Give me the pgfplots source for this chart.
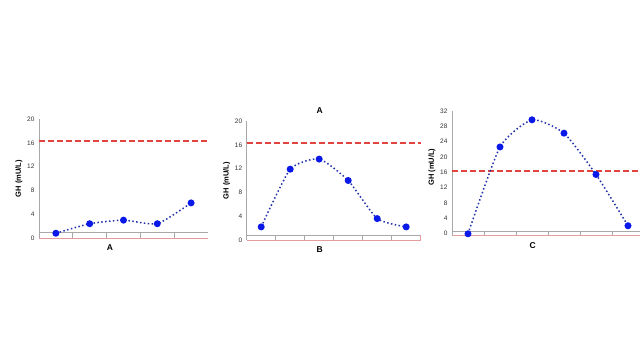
\documentclass[border=0pt]{standalone}
\usepackage{pgfplots}
\pgfplotsset{compat=1.18}
\usepackage{fontspec}
\setmainfont{Liberation Sans}
\definecolor{dotblue}{HTML}{2233AA}
\definecolor{mk}{HTML}{0A18E8}
\definecolor{dashred}{HTML}{E0443C}
\definecolor{basered}{HTML}{E59C9C}
\definecolor{axgray}{HTML}{A8A8A8}
\definecolor{tickgray}{HTML}{333333}
\pgfplotsset{panel/.style={
  scale only axis, anchor=south west,
  axis x line=bottom, axis y line=left, axis line style={-},
  x axis line style={basered, line width=0.8pt},
  y axis line style={axgray, line width=0.9pt},
  xticklabels={}, tick align=inside, major tick length=5pt,
  x tick style={axgray, line width=0.7pt},
  y tick style={draw=none},
  /pgf/number format/assume math mode=true,
  yticklabel style={font=\fontsize{6.5}{7.5}\selectfont, text=tickgray, xshift=-1pt},
  every axis y label/.style={at={(axis description cs:0,0.5)}, xshift=-20pt, rotate=90, anchor=center, font=\bfseries\fontsize{7.5}{8.5}\selectfont},
  every axis x label/.style={at={(axis description cs:0.42,0)}, yshift=-10pt, anchor=center, font=\bfseries\fontsize{8.5}{9.5}\selectfont},
  ylabel={GH (mU/L)},
  clip=false,
},
ref/.style={dashred, dash pattern=on 6pt off 3pt, line width=1.4pt, forget plot},
ser/.style={dotblue, dash pattern=on 1.5pt off 2.4pt, line width=1.5pt, smooth, tension=0.35, mark=*, mark options={solid, draw=mk, fill=mk}, mark size=2.7pt},
}
\begin{document}
\begin{tikzpicture}
\useasboundingbox (0,0) rectangle (640pt,360pt);
\clip (0,0) rectangle (640pt,360pt);
\fill[white] (0,0) rectangle (640pt,360pt);
% Panel 1
\begin{axis}[panel, at={(39pt,122pt)}, width=169pt, height=119pt,
  xmin=0, xmax=5, ymin=0, ymax=20, ytick={0,4,...,20}, xtick={1,2,3,4}, xlabel={A}]
\draw[axgray, line width=0.9pt] (axis cs:0,1) -- (axis cs:5,1);
\addplot[ref] coordinates {(0,16.3) (5,16.3)};
\addplot[ser] coordinates {(0.5,0.8) (1.5,2.4) (2.5,3.0) (3.5,2.4) (4.5,5.9)};
\end{axis}
% Panel 2
\begin{axis}[panel, at={(246.7pt,120pt)}, width=174pt, height=119pt,
  xmin=0, xmax=6, ymin=0, ymax=20, ytick={0,4,...,20}, xtick={1,2,3,4,5}, xlabel={B}]
\draw[axgray, line width=0.9pt] (axis cs:0,0.84) -- (axis cs:6,0.84);
\draw[basered, line width=0.8pt] (axis cs:6,0) -- (axis cs:6,0.84);
\node[font=\bfseries\fontsize{8.5}{9.5}\selectfont] at (axis description cs:0.42,1.09) {A};
\addplot[ref] coordinates {(0,16.3) (6,16.3)};
\addplot[ser] coordinates {(0.5,2.2) (1.5,11.9) (2.5,13.6) (3.5,10.0) (4.5,3.6) (5.5,2.2)};
\end{axis}
% Panel 3
\begin{axis}[panel, at={(452pt,124.3pt)}, width=192pt, height=124.7pt,
  xmin=0, xmax=6, ymin=-0.6, ymax=32, ytick={0,4,...,32}, xtick={1,2,3,4,5}, xlabel={C},
  every axis y label/.append style={at={(axis description cs:0,0.55)}}]
\draw[axgray, line width=0.9pt] (axis cs:0,0.4) -- (axis cs:6,0.4);
\addplot[ref, line width=1.7pt] coordinates {(0,16.4) (5.85,16.4)};
\addplot[ser] coordinates {(0.5,-0.1) (1.5,22.6) (2.5,29.7) (3.5,26.2) (4.5,15.4) (5.5,2.0)};
\end{axis}
\end{tikzpicture}
\end{document}
